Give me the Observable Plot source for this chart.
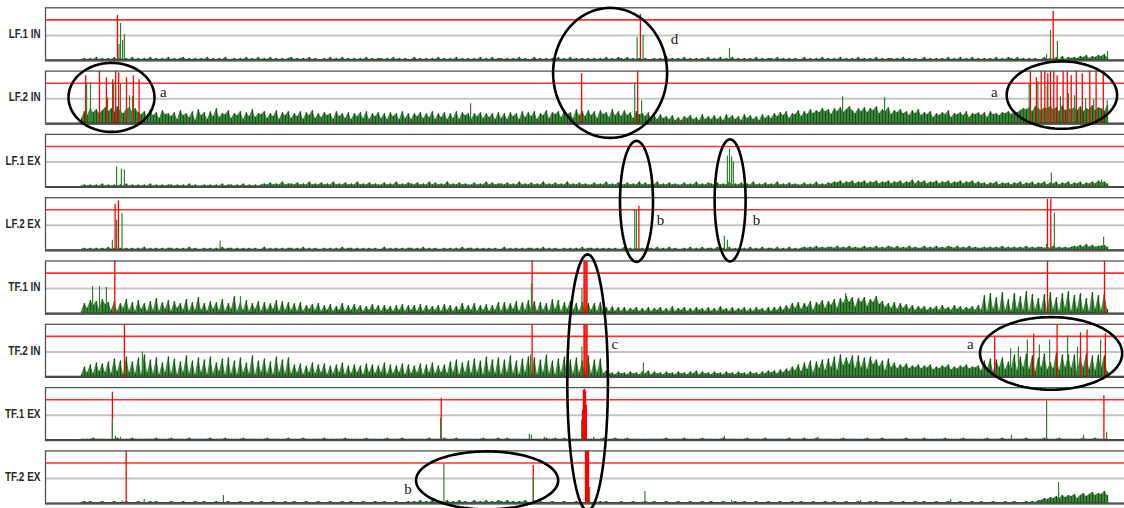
<!DOCTYPE html>
<html>
<head>
<meta charset="utf-8">
<script src="https://cdn.jsdelivr.net/npm/d3@7"></script>
<script src="https://cdn.jsdelivr.net/npm/@observablehq/plot@0.6"></script>
<style>
  html, body { margin: 0; padding: 0; background: #fff; }
  #chart { width: 1124px; height: 508px; overflow: hidden; }
</style>
</head>
<body>
<div id="chart"></div>
<script>
// ---- panel names (facet labels) ----
const panels = ["LF.1 IN", "LF.2 IN", "LF.1 EX", "LF.2 EX", "TF.1 IN", "TF.2 IN", "TF.1 EX", "TF.2 EX"];

// ---- threshold levels (same units as the signal) ----
const redLevel = 40.5;
const grayLevel = 25;

// ---- noise floor, one base-36 digit per sample (sample index = time step) ----
const floorLF1IN = [
"1212131212","1312121312","1213121213","1212312121","2131212131",
"1212131213","1213121212","3121213121","1213121312","1212131212",
"2121312121","1312121213","1212131212","1213121312","2121213121",
"1312121213","1213121212","1212131213","2131212121","1212141212",
"1312121213","1213121312","1212131212","2131212121","1312121312",
"1213121213","1212131212","2121312121","1312121213","1213121312",
"1212131213","2131212121","1312131413","2324352435","463"].join("");
const floorLF2IN = [
"5c8fbeadgc","fbhdaegcfb","9c6e8b5d9a","7b4d8a6c3e","8b4c7f6a9d",
"5a8c4b7e6a","9c5a7d4b8c","5a7c4b8d5a","6b8a4c7a5b","4a7b5c4a7b",
"5a4b7a4c5a","4a7b5a6c4a","6b4a5c4b8a","4a7b5a6a4b","5a4b7a4c6b",
"7c4a8d5b9c","6d9b5e8c7d","8c5d9b6e8c","7d8b5c9a7b","4849574836",
"3758463947","4847395847","3958473958","5a7b8c5a9d","7c9eadbfce",
"9fcgbehdaf","cgbfdhaecg","9dbeac8dae","8b9c6a8b9d","6a9b8c6a9b",
"8b6c9a8bac","9cbdfegchf","dgfhegcidf","egdhcfeidg","fci"].join("");
const floorLF1EX = [
"1212121312","1212131212","1213121212","2121213121","1212121312",
"2121312121","2324232523","3242325232","4232523242","3252324232",
"2423252324","3242325242","3252324232","2423252423","3242325232",
"4232523242","3252324232","2423252324","3242325242","3252324232",
"2423252324","3242325232","4232523242","3252324232","2423252324",
"3546354635","4635463546","3546354736","4635463546","3546354635",
"3424352434","2435243524","3524352435","2435243536","453"].join("");
const floorLF2EX = [
"1212121213","1212121212","1312121212","2121213121","1212121312",
"2121212121","1312121212","2121312121","1212121312","2121212121",
"1312121212","2121312121","1212121312","2121212121","1312121212",
"2121312121","1212121312","2121212121","1312121212","2131213121",
"1213121312","2131213121","1213121312","2131213121","2323242323",
"3242324232","2423242324","3242324232","2423242324","3242324232",
"2323232423","2323242323","3232423232","3435363534","453"].join("");
const floorTF1IN = [
"2a5d8c4e9b","3c2a5e3b2d","4a2c3f2b4d","2c5a3e2b3g","3a2c4b3e2a",
"4h2b3d2a4c","2b3a4d2c3b","3a2b28493a","2839273a28","3938273938",
"2837283928","3829283738","2938273a38","3a2839283b","2b3a4c2b3d",
"4c2b3a2e4d","2b4c3a2b3a","3a2b362726","2625362526","2536252725",
"3625263526","2527352625","3625263526","2637384a5b","4a6c3b8d5c",
"8e5fahbg6f","bg7ebh9c6a","5b4a594837","4736473846","3847364738",
"3i2k4g2l3e","2k4h3m2j4f","3j2l4g2k5m","2i4k3f2l4i","3k4"].join("");
const floorTF2IN = [
"2a4c3e5d4f","3i5g2k4f3j","2m4h3j2e4k","3i2f4l3g2j","4h2k3e5i2j",
"3g2j4e3l2g","4i3f2k4h3j","3c4d2b4e3c","4d2b3c4e2b","3c4b2d4c3b",
"4e2c3b4d2c","3b4d2c4e3b","4c3f4h2e4g","3i4g2k4h3j","2h4l3g2i4k",
"3j2h4m3g2i","4k2h3j4g2l","3h4i363425","3425342536","2534253425",
"3425362534","2534253425","3425342536","4637485a6c","5e7g4f8h6i",
"9k6mbjcl8l","9j7kchag6i","9e8c9d8b9c","8b9c7a8b9c","7a8b9c8a9b",
"6g8i5h9j7f","8m6k9n7l5j","9n7e8o6m9m","8m5k9n7l6m","9l5"].join("");
const floorTF1EX = [
"1111211111","1121111211","1111121111","2111112111","1112111121",
"1111211111","1121111112","1111211111","1211111121","1111121111",
"1121111211","1111112111","1211121111","1111211112","1121111111",
"1111121121","1211111111","1111211121","1121111111","1111121111",
"1211111211","1111211111","1121111121","1111112111","1211121111",
"1111211111","1121111211","1111121111","1211111121","1111211111",
"1121111211","1111121111","1211112111","1111211121","111"].join("");
const floorTF2EX = [
"1212111211","1211121112","1112121111","2111211121","1211121112",
"1112111211","2111211121","1211121112","1112111211","2111211121",
"1211121112","1213121312","2131213121","1312131213","2131212131",
"1212111211","1211121112","1112121111","2111211121","1211121112",
"1112111211","2111211121","1211121112","1112111211","2111211121",
"1211121112","1112121111","2111211121","1211121112","1112111211",
"2111211121","1211121213","3546575868","7958a79b8a","9c8"].join("");
const floors = [floorLF1IN, floorLF2IN, floorLF1EX, floorLF2EX, floorTF1IN, floorTF2IN, floorTF1EX, floorTF2EX];

// ---- spikes [time step, height] per panel ----
const redSpikes = [
  [[12,45],[186.3,46],[323.9,49]],
  [[1.4,48],[6,52.5],[8.3,46],[10.4,44],[11.4,52.5],[12.4,51],[15,46],[17.3,48],[19.2,44],[166.7,50],[185.4,52.5],
   [316.3,52.5],[318.3,46],[319.9,52.5],[321.1,52.5],[322.1,50],[323,52.5],[324.1,52.5],[325.2,48],[327.2,52.5],
   [328.6,52.5],[329.9,48],[331.6,52.5],[333.6,50],[336.1,52.5],[338.2,52.5],[340.6,52.5]],
  [],
  [[11.2,46],[12.3,49.5],[185.8,44],[322,51],[323.1,51]],
  [[11.1,52.5],[150.2,52.5],[167.5,52.5],[167.8,52.5],[168.2,52.5],[168.5,52.5],[322,52.5],[341,52.5]],
  [[14.3,52.5],[150.2,52.5],[167.5,52.5],[167.8,52.5],[168.2,52.5],[168.5,52.5],[304.4,40],[317.4,43],[325.2,52.5],
   [333,44],[335.2,47],[341.3,43]],
  [[10.3,48],[119.9,42],[167,30],[167.3,50],[167.7,51],[168,49],[168.3,35],[340.8,44.5]],
  [[14.9,52.5],[150.6,38],[168,52.5],[168.3,52.5],[168.7,52.5],[169,52.5]]
];
const greenSpikes = [
  [[12.5,16],[13,37],[13.7,20],[14.3,26],[185.2,23],[187.2,25],[216,12],[321.7,6],[323,30],[325.3,19],[342,9]],
  [[1.7,41],[3,41],[8.7,26],[10.7,41],[13,40],[16,28],[17,27],[129.7,20],[184.4,41],[186.7,23],[253.7,27],[267.7,26],
   [315.9,40],[318.8,42],[321.9,37],[326.3,27],[329,30],[331,28],[334.7,25],[337.4,24],[341.9,23]],
  [[11.7,20],[13.3,18],[14.3,17],[215.3,31],[216,38],[216.7,30],[217.3,25],[323.3,14],[340,7]],
  [[10.3,10],[11.7,30],[13.5,37],[46.2,9],[184.4,40],[185,40],[214.3,14],[215.3,10],[321.7,6],[324.3,37],[340.7,13]],
  [[3.7,27],[6,27],[8.3,26],[53,17],[150,30],[166.8,25],[254.7,20]],
  [[20.3,25],[149.7,22],[166.8,30],[187.3,14],[309.7,28],[312.3,30],[315.3,37],[319.3,32],[322.7,37],[328.7,41],
   [332,30],[339.7,37]],
  [[10.3,20],[11.3,4],[13,3],[119.7,22],[149.3,6],[150,5],[154.3,3],[166.7,20],[170.7,3],[214.3,4],[245.5,3],[310,5],
   [321.7,39.3],[334,5],[341.7,8]],
  [[13.5,3],[20.9,4],[47.3,8],[120.8,39.3],[150.6,26],[169.4,16],[187.8,12],[216.7,3],[259.7,3],[289.7,4],[325.7,20.7]]
];

// ---- annotations (ellipses and letters), in data units of a panel ----
const ellipses = [
  {panel: "LF.2 IN", cx: 10, cy: 26.3, rx: 14.33, ry: 34.5},
  {panel: "LF.2 IN", cx: 176.2, cy: 50.8, rx: 19, ry: 65},
  {panel: "LF.2 IN", cx: 326.8, cy: 28.6, rx: 18.4, ry: 33.7},
  {panel: "LF.2 EX", cx: 185, cy: 48.9, rx: 5.5, ry: 60.5},
  {panel: "LF.2 EX", cx: 216.2, cy: 49.9, rx: 5.17, ry: 61},
  {panel: "TF.2 IN", cx: 168.7, cy: -5.5, rx: 6.77, ry: 128},
  {panel: "TF.2 IN", cx: 323.2, cy: 23.5, rx: 23.7, ry: 36.3},
  {panel: "TF.2 EX", cx: 135.2, cy: 23.1, rx: 23.7, ry: 29}
];
const notes = [
  {panel: "LF.2 IN", t: 27.3, y: 31.3, text: "a"},
  {panel: "LF.1 IN", t: 197.7, y: 21, text: "d"},
  {panel: "LF.2 IN", t: 304.3, y: 31.8, text: "a"},
  {panel: "LF.2 EX", t: 193, y: 30.2, text: "b"},
  {panel: "LF.2 EX", t: 225, y: 30.2, text: "b"},
  {panel: "TF.2 IN", t: 177.8, y: 32.8, text: "c"},
  {panel: "TF.2 IN", t: 296.3, y: 33.2, text: "a"},
  {panel: "TF.2 EX", t: 108.8, y: 14, text: "b"}
];

// ---- build tables ----
const floorRows = [];
floors.forEach((s, p) => { for (let i = 0; i < s.length; i++) floorRows.push({panel: panels[p], t: i, v: parseInt(s[i], 36)}); });
const redRows = [], greenRows = [];
redSpikes.forEach((arr, p) => arr.forEach(([t, h]) => redRows.push({panel: panels[p], t, h})));
greenSpikes.forEach((arr, p) => arr.forEach(([t, h]) => greenRows.push({panel: panels[p], t, h})));
const ellipseRows = [];
ellipses.forEach((e, k) => {
  for (let j = 0; j <= 96; j++) {
    const a = (j / 96) * 2 * Math.PI;
    ellipseRows.push({id: k, panel: e.panel, t: e.cx + e.rx * Math.cos(a), y: e.cy + e.ry * Math.sin(a)});
  }
});

const chart = Plot.plot({
  width: 1124,
  height: 508,
  marginTop: 7.3,
  marginBottom: 5,
  marginLeft: 45,
  marginRight: -1,
  style: {fontFamily: "'Liberation Sans', Arial, sans-serif", fontSize: "12.5px", color: "#222", background: "#fff"},
  x: {domain: [-12, 348], axis: null},
  y: {domain: [0, 52.6], axis: null},
  fy: {domain: panels, paddingInner: 0.169, paddingOuter: 0, round: false, label: null, axis: "left", tickSize: 0, tickPadding: 5},
  marks: [
    Plot.ruleY([grayLevel], {stroke: "#c4c4c4", strokeWidth: 2}),
    Plot.ruleY([redLevel], {stroke: "#ff3030", strokeWidth: 1.6}),
    Plot.areaY(floorRows, {x: "t", y: "v", fy: "panel", fill: "#1a6a1a", fillOpacity: 0.8, curve: "linear"}),
    Plot.ruleX(floorRows, {x: "t", y1: 0, y2: "v", fy: "panel", stroke: "#0f5c0f", strokeWidth: 1.3}),
    Plot.ruleX(redRows, {x: "t", y1: 0, y2: "h", fy: "panel", stroke: "#ff0000", strokeWidth: 1.3}),
    Plot.ruleX(greenRows, {x: "t", y1: 0, y2: "h", fy: "panel", stroke: "#2f822f", strokeWidth: 1.2}),
    Plot.ruleY([0], {stroke: "#333", strokeWidth: 2.2}),
    Plot.frame({stroke: "#555", strokeWidth: 1.3}),
    Plot.line(ellipseRows, {x: "t", y: "y", z: "id", fy: "panel", stroke: "#000", strokeWidth: 2.6, curve: "linear"}),
    Plot.text(notes, {x: "t", y: "y", fy: "panel", text: "text", fontFamily: "'Liberation Serif', serif", fontSize: 15, fill: "#222"})
  ]
});
document.getElementById("chart").appendChild(chart);

// condense the panel labels (the reference uses a narrow face)
d3.select(chart).selectAll("text").each(function () {
  if (panels.includes(this.textContent)) {
    const w = this.getComputedTextLength();
    this.setAttribute("textLength", (w * 0.8).toFixed(1));
    this.setAttribute("lengthAdjust", "spacingAndGlyphs");
    this.setAttribute("font-weight", "bold");
    this.setAttribute("fill", "#2a2a2a");
  }
});
</script>
</body>
</html>
